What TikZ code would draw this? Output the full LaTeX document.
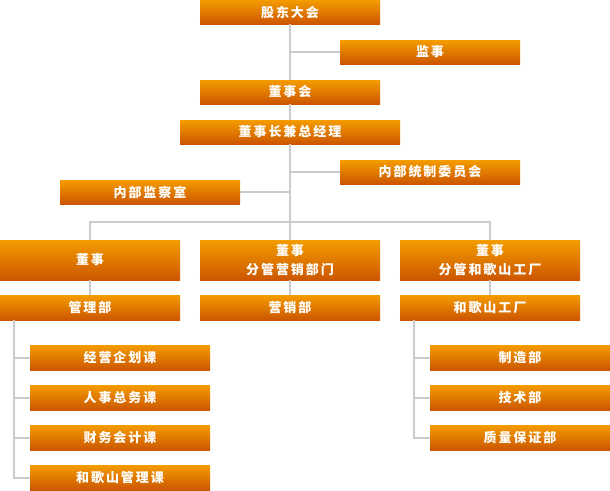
\documentclass[tikz,border=0pt]{standalone}
\usepackage{fontspec}
\newfontfamily\cjk{Noto Sans CJK SC}[LetterSpace=15]
\definecolor{otop}{RGB}{244,156,0}
\definecolor{obot}{RGB}{204,86,0}
\definecolor{oedge}{RGB}{170,70,0}
\definecolor{lgray}{RGB}{204,204,204}
\tikzset{
  box/.style={inner sep=0pt, top color=otop, bottom color=obot, draw=none,
    minimum width=180pt, minimum height=24pt, text=white, align=center,
    font=\cjk\bfseries\fontsize{13}{19}\selectfont,
    append after command={\pgfextra{\draw[oedge, line width=1pt]
      ([yshift=0.5pt]\tikzlastnode.south west) -- ([yshift=0.5pt]\tikzlastnode.south east);}}},
  conn/.style={draw=lgray, line width=2pt}
}
\begin{document}
\begin{tikzpicture}[x=1pt,y=-1pt]
\useasboundingbox (0,0) rectangle (610,490);
\coordinate (j) at (290,222);
\coordinate (l1) at (14,320);
\coordinate (r1) at (414,320);
% nodes
\node[box] (gd) at (290,12) {股东大会};
\node[box] (js) at (430,52) {监事};
\node[box] (dsh) at (290,92) {董事会};
\node[box, minimum width=220pt] (dz) at (290,132) {董事长兼总经理};
\node[box] (nb) at (430,172) {内部统制委员会};
\node[box] (jc) at (150,192) {内部监察室};
\node[box, minimum height=40pt] (d1) at (90,260) {董事};
\node[box, minimum height=40pt] (d2) at (290,260) {董事\\分管营销部门};
\node[box, minimum height=40pt] (d3) at (490,260) {董事\\分管和歌山工厂};
\node[box, minimum height=25pt] (m1) at (90,307.5) {管理部};
\node[box, minimum height=25pt] (m2) at (290,307.5) {营销部};
\node[box, minimum height=25pt] (m3) at (490,307.5) {和歌山工厂};
\node[box, minimum height=25pt] (k1) at (120,357.5) {经营企划课};
\node[box, minimum height=25pt] (k2) at (120,397.5) {人事总务课};
\node[box, minimum height=25pt] (k3) at (120,437.5) {财务会计课};
\node[box, minimum height=25pt] (k4) at (120,477.5) {和歌山管理课};
\node[box, minimum height=25pt] (g1) at (520,357.5) {制造部};
\node[box, minimum height=25pt] (g2) at (520,397.5) {技术部};
\node[box, minimum height=25pt] (g3) at (520,437.5) {质量保证部};
% connectors
\draw[conn] (gd.south) -- (dsh.north);
\draw[conn] (dsh.south) -- (dz.north);
\draw[conn] (dz.south) -- (j);
\draw[conn] (js.west -| gd.south) -- (js.west);
\draw[conn] (nb.west -| j) -- (nb.west);
\draw[conn] (jc.east -| j) -- (jc.east);
\draw[conn] (d1.north) |- (j) -| (d3.north);
\draw[conn] (j) -- (d2.north);
\draw[conn] (d1.south) -- (m1.north);
\draw[conn] (d2.south) -- (m2.north);
\draw[conn] (d3.south) -- (m3.north);
\draw[conn] (l1) |- (k4.west);
\draw[conn] (k1.west -| l1) -- (k1.west);
\draw[conn] (k2.west -| l1) -- (k2.west);
\draw[conn] (k3.west -| l1) -- (k3.west);
\draw[conn] (r1) |- (g3.west);
\draw[conn] (g1.west -| r1) -- (g1.west);
\draw[conn] (g2.west -| r1) -- (g2.west);
\end{tikzpicture}
\end{document}
